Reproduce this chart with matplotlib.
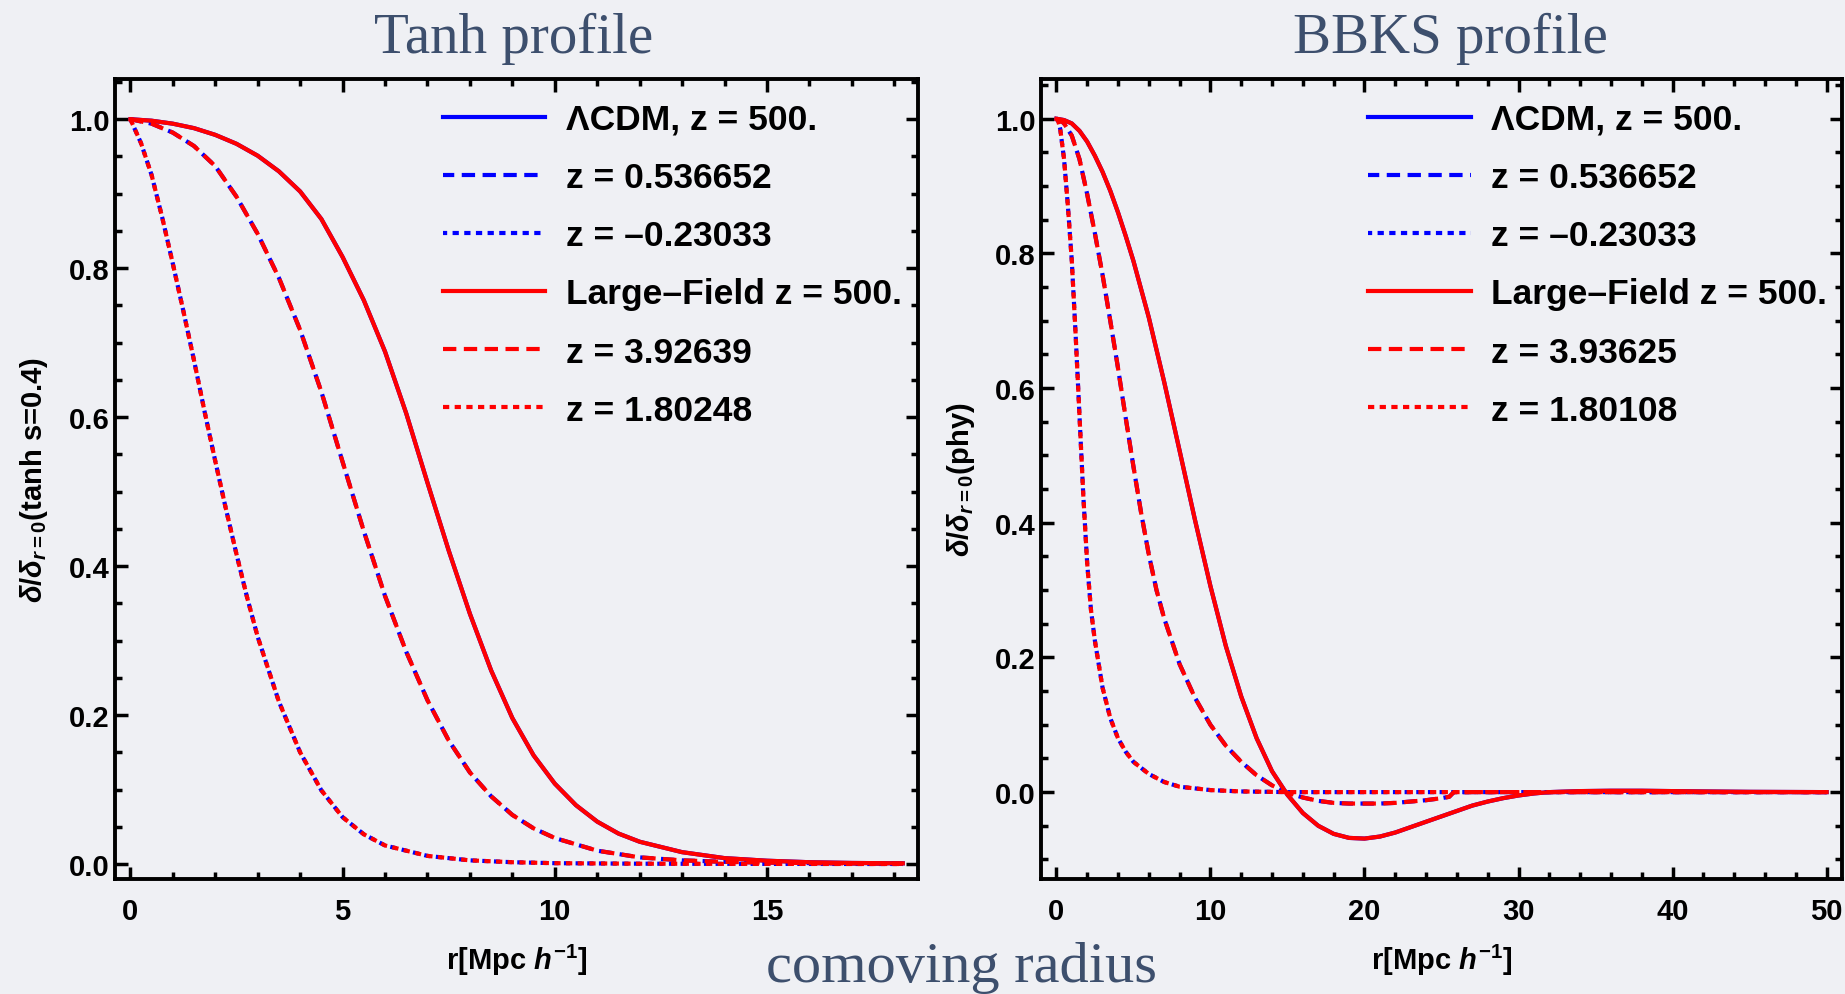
import matplotlib
matplotlib.use("Agg")
import matplotlib.pyplot as plt
from matplotlib.ticker import MultipleLocator, FormatStrFormatter

# ---- Tanh profile (left panel); LCDM and Large-Field curves coincide ----
r_tanh_solid = [0, 0.5, 1, 1.5, 2, 2.5, 3, 3.5, 4, 4.5, 5, 5.5, 6, 6.5, 7, 7.5,
                8, 8.5, 9, 9.5, 10, 10.5, 11, 11.5, 12, 13, 14, 15, 16, 17, 18.2]
d_tanh_solid = [1.000, 0.998, 0.994, 0.988, 0.979, 0.967, 0.951, 0.930, 0.903,
                0.866, 0.815, 0.757, 0.688, 0.605, 0.512, 0.421, 0.336, 0.260,
                0.196, 0.146, 0.108, 0.079, 0.057, 0.041, 0.030, 0.016, 0.008,
                0.0045, 0.0025, 0.0015, 0.001]

r_tanh_dash = [0, 0.5, 1, 1.5, 2, 2.5, 3, 3.5, 4, 4.5, 5, 5.5, 6, 6.5, 7, 7.5,
               8, 8.5, 9, 9.5, 10, 11, 12, 13, 14, 15, 16.5, 18.2]
d_tanh_dash = [1.000, 0.994, 0.982, 0.964, 0.937, 0.896, 0.846, 0.787, 0.717,
               0.634, 0.540, 0.447, 0.360, 0.285, 0.220, 0.166, 0.123, 0.091,
               0.066, 0.048, 0.035, 0.018, 0.009, 0.005, 0.003, 0.002, 0.001, 0.0005]

r_tanh_dot = [0, 0.25, 0.5, 0.75, 1, 1.25, 1.5, 1.75, 2, 2.25, 2.5, 2.75, 3,
              3.5, 4, 4.5, 5, 5.5, 6, 7, 8, 9, 10, 12, 14, 16, 18.2]
d_tanh_dot = [1.000, 0.968, 0.925, 0.868, 0.806, 0.742, 0.676, 0.607, 0.541,
              0.477, 0.416, 0.358, 0.305, 0.218, 0.150, 0.099, 0.063, 0.040,
              0.025, 0.011, 0.005, 0.0025, 0.0012, 0.0005, 0.0003, 0.0002, 0.0001]

# ---- BBKS profile (right panel) ----
r_bbks_solid = [0, 0.5, 1, 1.5, 2, 2.5, 3, 3.5, 4, 4.5, 5, 6, 7, 8, 9, 10, 11,
                12, 13, 14, 15, 16, 17, 18, 19, 20, 21, 22, 23, 24, 25, 26, 27,
                28, 29, 30, 31, 32, 34, 36, 38, 40, 42, 45, 50]
d_bbks_solid = [1.000, 0.998, 0.993, 0.982, 0.966, 0.945, 0.921, 0.893, 0.861,
                0.826, 0.789, 0.705, 0.609, 0.507, 0.404, 0.306, 0.217, 0.142,
                0.080, 0.031, -0.004, -0.031, -0.050, -0.062, -0.068, -0.069,
                -0.066, -0.060, -0.052, -0.044, -0.036, -0.028, -0.020, -0.014,
                -0.009, -0.005, -0.002, 0.000, 0.0015, 0.002, 0.002, 0.0015,
                0.001, 0.0004, 0.0]

r_bbks_dash = [0, 0.25, 0.5, 1, 1.5, 2, 2.5, 3, 3.5, 4, 4.5, 5, 5.5, 6, 6.5, 7,
               8, 9, 10, 11, 12, 13, 14, 15, 16, 17, 18, 19, 20, 21, 22, 23, 24,
               25, 25.5, 25.8, 30, 40, 50]
d_bbks_dash = [1.000, 0.998, 0.993, 0.975, 0.940, 0.888, 0.830, 0.768, 0.700,
               0.630, 0.556, 0.484, 0.415, 0.353, 0.300, 0.258, 0.190, 0.140,
               0.100, 0.069, 0.045, 0.025, 0.010, -0.001, -0.008, -0.013, -0.016,
               -0.017, -0.017, -0.017, -0.016, -0.014, -0.012, -0.009, -0.007,
               0.0, 0.0, 0.0, 0.0]

r_bbks_dot = [0, 0.125, 0.25, 0.5, 0.75, 1, 1.25, 1.5, 1.75, 2, 2.25, 2.5, 3,
              3.5, 4, 4.5, 5, 6, 7, 8, 10, 12, 15, 20, 30, 40, 50]
d_bbks_dot = [1.000, 0.996, 0.985, 0.940, 0.870, 0.790, 0.680, 0.560, 0.440,
              0.340, 0.270, 0.225, 0.155, 0.110, 0.080, 0.060, 0.045, 0.027,
              0.015, 0.008, 0.003, 0.001, 0.0, 0.0, 0.0, 0.0, 0.0]

labels_tanh = ["\u039bCDM, z = 500.", "z = 0.536652", "z = \u20130.23033",
               "Large\u2013Field z = 500.", "z = 3.92639", "z = 1.80248"]
labels_bbks = ["\u039bCDM, z = 500.", "z = 0.536652", "z = \u20130.23033",
               "Large\u2013Field z = 500.", "z = 3.93625", "z = 1.80108"]

plt.rcParams["font.family"] = ["Liberation Sans", "DejaVu Sans"]
plt.rcParams["font.weight"] = "bold"
plt.rcParams["axes.labelweight"] = "bold"
plt.rcParams["mathtext.fontset"] = "custom"
plt.rcParams["mathtext.rm"] = "Liberation Sans:bold"
plt.rcParams["mathtext.it"] = "Liberation Sans:italic:bold"
plt.rcParams["mathtext.bf"] = "Liberation Sans:bold"

bg = "#eff0f4"
title_color = "#3d4f6d"
serif = ["Liberation Serif", "DejaVu Serif"]

fig = plt.figure(figsize=(18.45, 9.95), dpi=100, facecolor=bg)
ax1 = fig.add_axes([0.0623, 0.1156, 0.4353, 0.804])
ax2 = fig.add_axes([0.5642, 0.1156, 0.4342, 0.804])

DASH = (3.2, 1.8)
DOT = (1.5, 1.3)


def draw(ax, curves, labels):
    styles = ["-", DASH, DOT]
    handles = []
    for color, shift in (("#0000ff", 0.5), ("#ff0000", 0.0)):
        for (r, d), st in zip(curves, styles):
            ls = "-" if st == "-" else (shift, st)
            h, = ax.plot(r, d, color=color, lw=3.0, ls=ls)
            handles.append(h)
    ax.legend(handles, labels, loc="upper left", bbox_to_anchor=(0.408, 0.970),
              frameon=False, prop={"size": 25.5, "weight": "bold"},
              handlelength=2.9, handletextpad=0.57,
              labelspacing=0.71, borderpad=0, borderaxespad=0)
    ax.set_facecolor(bg)
    for s in ax.spines.values():
        s.set_linewidth(2.8)
    ax.tick_params(which="both", direction="in", top=True, right=True,
                   width=2.5, labelsize=21)
    ax.tick_params(which="major", length=9)
    ax.tick_params(which="minor", length=5)
    ax.tick_params(axis="x", pad=13)
    ax.tick_params(axis="y", pad=4)
    ax.set_xlabel(r"r[Mpc $h^{-1}$]", fontsize=21, fontweight="bold")
    ax.xaxis.set_label_coords(0.5, -0.078)


draw(ax1, [(r_tanh_solid, d_tanh_solid), (r_tanh_dash, d_tanh_dash),
           (r_tanh_dot, d_tanh_dot)], labels_tanh)
draw(ax2, [(r_bbks_solid, d_bbks_solid), (r_bbks_dash, d_bbks_dash),
           (r_bbks_dot, d_bbks_dot)], labels_bbks)

ax1.set_xlim(-0.364, 18.56)
ax1.set_ylim(-0.02, 1.054)
ax1.xaxis.set_major_locator(MultipleLocator(5))
ax1.xaxis.set_minor_locator(MultipleLocator(1))
ax1.yaxis.set_major_locator(MultipleLocator(0.2))
ax1.yaxis.set_minor_locator(MultipleLocator(0.05))
ax1.yaxis.set_major_formatter(FormatStrFormatter("%.1f"))
ax1.set_ylabel(r"$\delta/\delta_{r=0}$(tanh s=0.4)", fontsize=21, fontweight="bold")
ax1.yaxis.set_label_coords(-0.081, 0.5)

ax2.set_xlim(-1.0, 51.0)
ax2.set_ylim(-0.129, 1.059)
ax2.xaxis.set_major_locator(MultipleLocator(10))
ax2.xaxis.set_minor_locator(MultipleLocator(2))
ax2.yaxis.set_major_locator(MultipleLocator(0.2))
ax2.yaxis.set_minor_locator(MultipleLocator(0.05))
ax2.yaxis.set_major_formatter(FormatStrFormatter("%.1f"))
ax2.set_ylabel(r"$\delta/\delta_{r=0}$(phy)", fontsize=21, fontweight="bold")
ax2.yaxis.set_label_coords(-0.080, 0.5)

for ax in (ax1, ax2):
    for lab in ax.get_xticklabels() + ax.get_yticklabels():
        lab.set_fontweight("bold")

fig.text(0.2786, 0.9467, "Tanh profile", ha="center", va="baseline",
         fontsize=41, family=serif, weight="normal", color=title_color)
fig.text(0.786, 0.9467, "BBKS profile", ha="center", va="baseline",
         fontsize=41, family=serif, weight="normal", color=title_color)
fig.text(0.521, 0.013, "comoving radius", ha="center", va="baseline",
         fontsize=42, family=serif, weight="normal", color=title_color)

fig.savefig("out.png", dpi=100, facecolor=bg)
